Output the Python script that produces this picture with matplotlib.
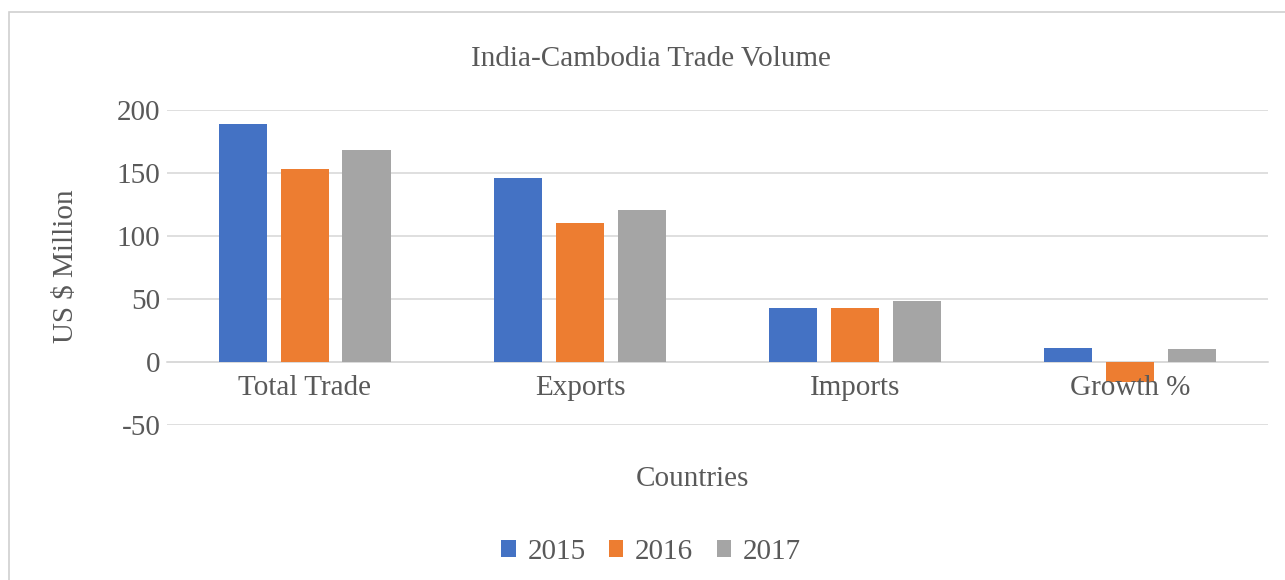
import numpy as np
import matplotlib.pyplot as plt
from matplotlib.patches import Rectangle

# data
categories = ["Total Trade", "Exports", "Imports", "Growth %"]
years = ["2015", "2016", "2017"]
values_2015 = [188.6, 146, 42.6, 10.9]
values_2016 = [153.4, 110.6, 43.1, -15.8]
values_2017 = [168.3, 120.9, 48.4, 10.1]
colors = ["#4472c4", "#ed7d31", "#a5a5a5"]

plt.rcParams["font.family"] = ["Liberation Serif", "DejaVu Serif"]
plt.rcParams["axes.unicode_minus"] = False
text_color = "#595959"

fig = plt.figure(figsize=(12.85, 5.8), dpi=100)
ax = fig.add_axes([0.1303, 0.2672, 0.8561, 0.5431])

# chart border
fig.patches.append(Rectangle((9 / 1285, -0.1), 1.2, (580 - 12) / 580 + 0.1,
                             transform=fig.transFigure, fill=False,
                             edgecolor="#d0d0d0", linewidth=1.2))

x = np.arange(len(categories))
width = 0.175
offset = 0.224
series = [values_2015, values_2016, values_2017]
for i, (vals, year) in enumerate(zip(series, years)):
    ax.bar(x + (i - 1) * offset, vals, width, color=colors[i], label=year, zorder=2)

ax.set_xlim(-0.5, len(categories) - 0.5)
ax.set_ylim(-50, 200)
ax.set_yticks([-50, 0, 50, 100, 150, 200])
ax.grid(axis="y", color="#d9d9d9", linewidth=1.2, zorder=0)
ax.set_axisbelow(True)
# category labels sit on top of the bars
ax.xaxis.set_zorder(3)

for s in ["top", "right", "left"]:
    ax.spines[s].set_visible(False)
ax.spines["bottom"].set_position(("data", 0))
ax.spines["bottom"].set_color("#d9d9d9")
ax.spines["bottom"].set_linewidth(1.2)
ax.spines["bottom"].set_zorder(1)

ax.set_xticks(x)
ax.set_xticklabels(categories)
ax.tick_params(axis="both", length=0, labelsize=21, colors=text_color)
ax.tick_params(axis="x", pad=9)
ax.tick_params(axis="y", pad=5)

fig.text(651 / 1285, 1 - 59 / 580, "India-Cambodia Trade Volume",
         ha="center", va="center", fontsize=21, color=text_color)
fig.text(66 / 1285, 1 - 266 / 580, "US $ Million", rotation=90,
         ha="center", va="center", fontsize=21, color=text_color)
fig.text(692 / 1285, 1 - 479 / 580, "Countries",
         ha="center", va="center", fontsize=21, color=text_color)

fig.legend(loc="center", bbox_to_anchor=(651 / 1285, 1 - 552 / 580), ncol=3,
           frameon=False, fontsize=21, handlelength=0.5, handleheight=0.5,
           handletextpad=0.4, columnspacing=0.8, labelcolor=text_color)

fig.savefig("out.png", dpi=100)
